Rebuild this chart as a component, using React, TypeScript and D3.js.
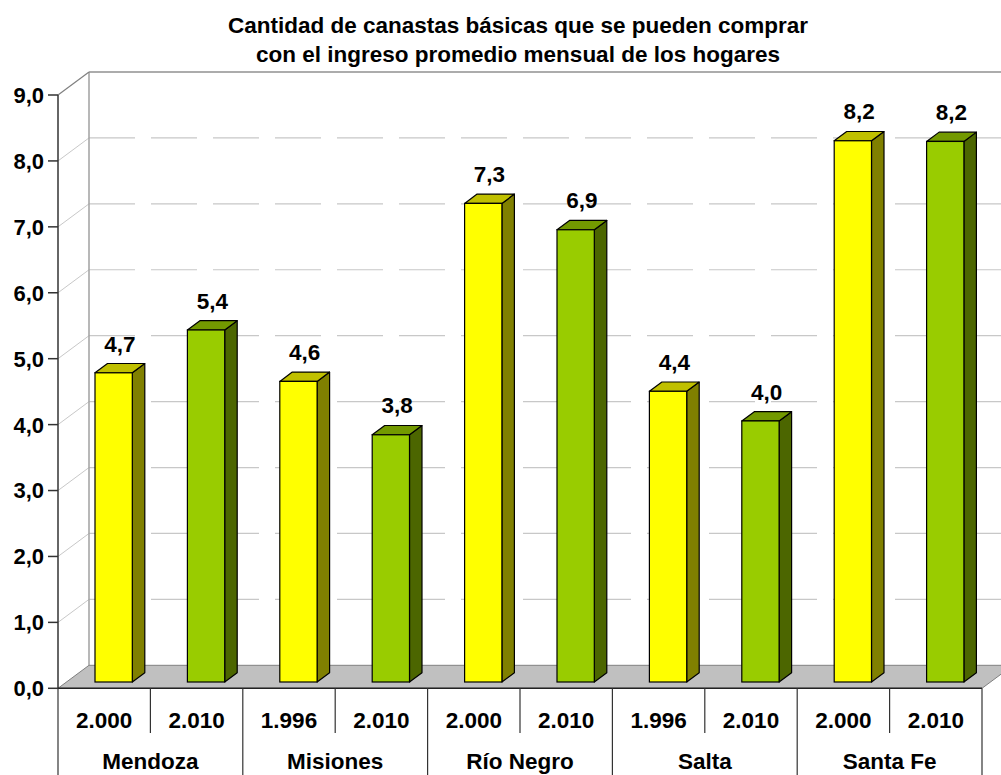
import React from "react";
import * as d3 from "d3";

const titleLines = [
  "Cantidad de canastas básicas que se pueden comprar",
  "con el ingreso promedio mensual de los hogares",
];
const provinces = ["Mendoza", "Misiones", "Río Negro", "Salta", "Santa Fe"];
const years = ["2.000", "2.010", "1.996", "2.010", "2.000", "2.010", "1.996", "2.010", "2.000", "2.010"];
const values = [4.69, 5.34, 4.56, 3.75, 7.26, 6.86, 4.41, 3.96, 8.21, 8.2];
const valueLabels = ["4,7", "5,4", "4,6", "3,8", "7,3", "6,9", "4,4", "4,0", "8,2", "8,2"];
const yTicks = [0, 1, 2, 3, 4, 5, 6, 7, 8, 9];

const W = 1001;
const H = 775;
const FONT = "'Liberation Sans', Arial, Helvetica, sans-serif";

const frontLeft = 58;
const frontRight = 982;
const y0 = 688.3;
const y9 = 95;
const backDx = 31;
const backDy = 23;
const barDx = 12.5;
const barDy = 9.3;
const barShiftY = 6.3;
const barOffset = 37;
const barW = 37.3;

const yellow = { front: "#FFFF00", side: "#808000", top: "#C0C000" };
const green = { front: "#99CC00", side: "#4C6600", top: "#739900" };

export default function App() {
  const x = d3
    .scaleBand<number>()
    .domain(d3.range(values.length))
    .range([frontLeft, frontRight])
    .padding(0);
  const y = d3.scaleLinear().domain([0, 9]).range([y0, y9]);
  const slot = x.bandwidth();

  const fmt = (v: number) => d3.format(".1f")(v).replace(".", ",");

  const floorBack = y(0) - backDy;

  return (
    <svg
      width={W}
      height={H}
      style={{ position: "absolute", left: 0, top: 0, background: "#fff", display: "block" }}
      fontFamily={FONT}
    >
      {/* title */}
      {titleLines.map((t, i) => (
        <text
          key={i}
          x={518}
          y={32.5 + i * 29}
          textAnchor="middle"
          fontWeight="bold"
          fontSize={22.5}
          fill="#000"
        >
          {t}
        </text>
      ))}

      {/* back wall gridlines */}
      {yTicks.slice(1, 9).map((t) => (
        <line
          key={"g" + t}
          x1={frontLeft + backDx}
          x2={W}
          y1={y(t) - backDy}
          y2={y(t) - backDy}
          stroke="#C8C8C8"
          strokeWidth={1.2}
          strokeDasharray="46,16"
        />
      ))}
      {/* side wall diagonals */}
      {yTicks.slice(1, 9).map((t) => (
        <line
          key={"d" + t}
          x1={frontLeft}
          y1={y(t)}
          x2={frontLeft + backDx}
          y2={y(t) - backDy}
          stroke="#C8C8C8"
          strokeWidth={1}
        />
      ))}
      {/* back wall edges */}
      <line x1={frontLeft + backDx} x2={frontLeft + backDx} y1={y(9) - backDy} y2={floorBack} stroke="#A0A0A0" strokeWidth={1.5} />
      <line x1={frontLeft + backDx} x2={W} y1={y(9) - backDy} y2={y(9) - backDy} stroke="#909090" strokeWidth={1.5} />
      <line x1={frontLeft} y1={y(9)} x2={frontLeft + backDx} y2={y(9) - backDy} stroke="#808080" strokeWidth={1.2} />

      {/* floor */}
      <polygon
        points={[
          [frontLeft, y(0)],
          [frontRight, y(0)],
          [frontRight + backDx, floorBack],
          [frontLeft + backDx, floorBack],
        ]
          .map((p) => p.join(","))
          .join(" ")}
        fill="#C0C0C0"
        stroke="#808080"
        strokeWidth={1}
      />

      {/* bars */}
      {values.map((v, i) => {
        const c = i % 2 === 0 ? yellow : green;
        const L = (x(i) as number) + barOffset;
        const R = L + barW;
        const top = y(v) - barShiftY;
        const bot = y(0) - barShiftY;
        const side = [
          [R, bot],
          [R + barDx, bot - barDy],
          [R + barDx, top - barDy],
          [R, top],
        ];
        const topF = [
          [L, top],
          [L + barDx, top - barDy],
          [R + barDx, top - barDy],
          [R, top],
        ];
        const pts = (a: number[][]) => a.map((p) => p.join(",")).join(" ");
        return (
          <g key={"b" + i}>
            <polygon points={pts(side)} fill={c.side} stroke="#000" strokeWidth={1.2} strokeLinejoin="round" />
            <polygon points={pts(topF)} fill={c.top} stroke="#000" strokeWidth={1.2} strokeLinejoin="round" />
            <rect x={L} y={top} width={barW} height={bot - top} fill={c.front} stroke="#000" strokeWidth={1.2} />
            <text
              x={L + barW / 2 + barDx / 2}
              y={top - barDy - 12}
              textAnchor="middle"
              fontWeight="bold"
              fontSize={22.5}
              fill="#000"
            >
              {valueLabels[i] ?? fmt(v)}
            </text>
          </g>
        );
      })}

      {/* y axis */}
      <line x1={frontLeft} x2={frontLeft} y1={y(9)} y2={y(0)} stroke="#333" strokeWidth={1.5} />
      {yTicks.map((t) => (
        <g key={"t" + t}>
          <line x1={frontLeft - 10} x2={frontLeft} y1={y(t)} y2={y(t)} stroke="#333" strokeWidth={1.5} />
          <text
            x={frontLeft - 14}
            y={y(t)}
            dy="0.36em"
            textAnchor="end"
            fontWeight="bold"
            fontSize={22}
            fill="#000"
          >
            {fmt(t)}
          </text>
        </g>
      ))}

      {/* category axis table */}
      <line x1={frontLeft} x2={frontRight} y1={y(0)} y2={y(0)} stroke="#222" strokeWidth={1.5} />
      {d3.range(values.length + 1).map((k) => {
        const xx = frontLeft + k * slot;
        const full = k % 2 === 0;
        return (
          <line
            key={"v" + k}
            x1={xx}
            x2={xx}
            y1={y(0)}
            y2={full ? H : 733}
            stroke="#333"
            strokeWidth={1.2}
          />
        );
      })}
      {years.map((yr, i) => (
        <text
          key={"y" + i}
          x={(x(i) as number) + slot / 2}
          y={720}
          dy="0.36em"
          textAnchor="middle"
          fontWeight="bold"
          fontSize={22.5}
          fill="#000"
        >
          {yr}
        </text>
      ))}
      {provinces.map((p, i) => (
        <text
          key={"p" + i}
          x={frontLeft + (i * 2 + 1) * slot}
          y={768.5}
          textAnchor="middle"
          fontWeight="bold"
          fontSize={22.5}
          fill="#000"
        >
          {p}
        </text>
      ))}
    </svg>
  );
}
